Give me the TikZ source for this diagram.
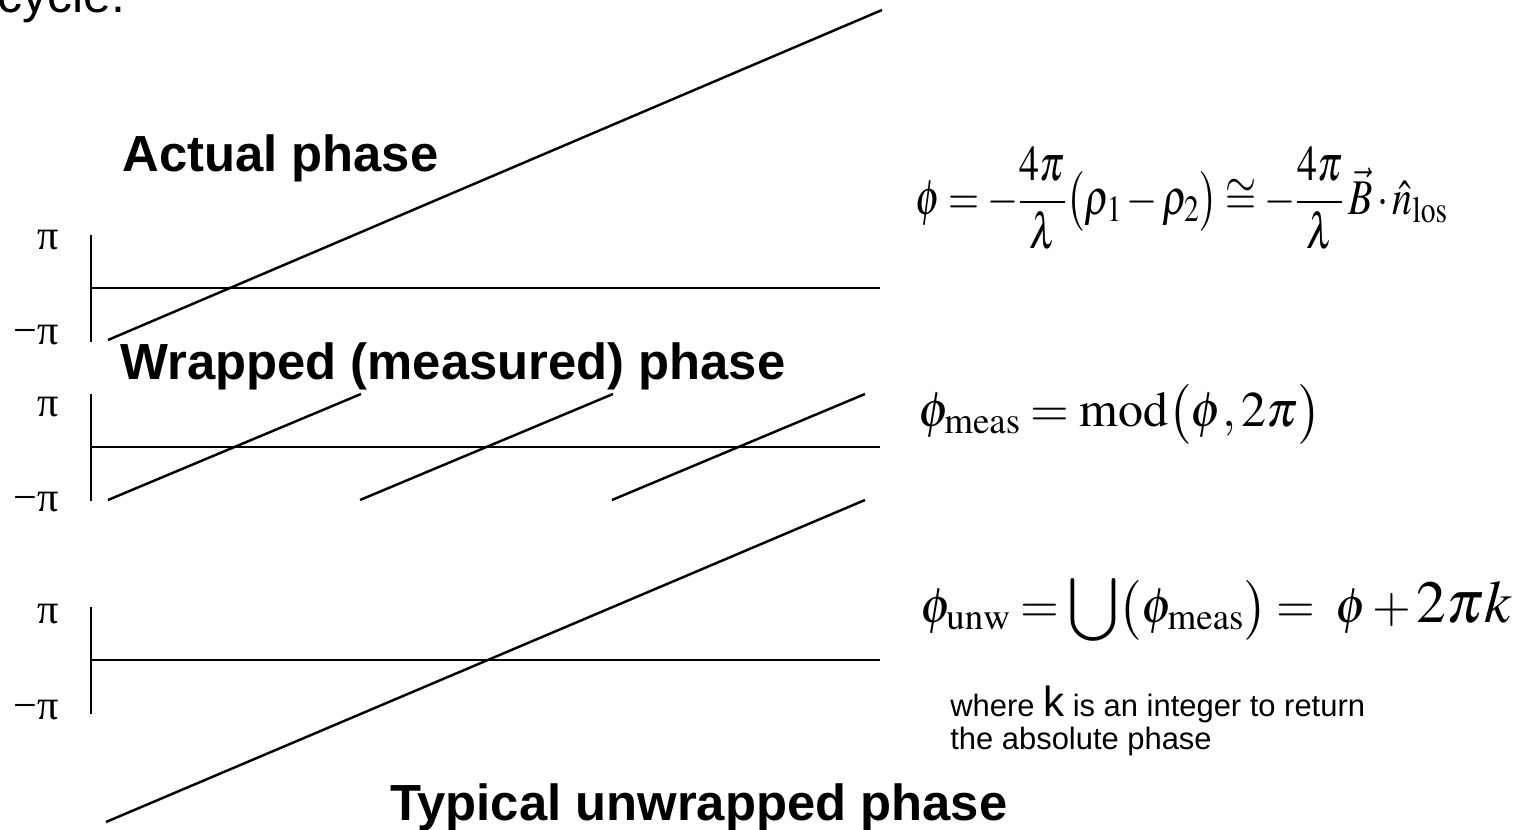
\documentclass[tikz,border=0pt]{standalone}
\usepackage{amsmath}
\usepackage{mathptmx}
\usepackage{fontspec}
\setmainfont{Liberation Sans}
\newfontfamily\grkserif{Liberation Serif}
\usepackage{tikz}
\usetikzlibrary{positioning, calc}
\tikzset{
  heading/.style={font=\fontsize{28.9}{30}\selectfont\bfseries, anchor=base west, inner sep=0pt},
  ticklbl/.style={font=\grkserif\fontsize{24}{26}\selectfont, anchor=east, inner sep=0pt},
  axisline/.style={line width=1.1pt, black},
  phaseline/.style={line width=1.4pt, black},
  eqn/.style={font={\fontsize{28.4}{30}\selectfont\thickmuskip=3.5mu\medmuskip=2mu}, anchor=west, inner sep=0pt},
  note/.style={font=\fontsize{17.6}{18.8}\selectfont, align=left, anchor=base west, inner sep=0pt}
}

\begin{document}
\begin{tikzpicture}[x=0.02cm, y=-0.02cm]
\useasboundingbox (0,0) rectangle (1519,830);

% text cut by the page top
\node[font=\fontsize{28.4}{30}\selectfont, anchor=base west, inner sep=0pt] (cyc) at (-3,13) {cycle.};

% three phase panels
\foreach \nm/\yc/\yp/\ym in {act/288/240/335, wrp/447/407/502, unw/660/614/710} {
  \coordinate (\nm-top) at (91,\yc-53);
  \coordinate (\nm-bot) at (91,\yc+54);
  \coordinate (\nm-o) at (91,\yc);
  \coordinate (\nm-e) at (880,\yc);
  \draw[axisline] (\nm-top) -- (\nm-bot);
  \draw[axisline] (\nm-o) -- (\nm-e);
  \node[ticklbl] (\nm-pi) at (59,\yp) {π};
  \node[ticklbl] (\nm-mpi) at (59,\ym) {−π};
}

\node[heading] (hact) at (122,172) {Actual phase};
\node[heading] (hwrp) at (120,380) {Wrapped (measured) phase};
\node[heading] (hunw) at (390,821) {Typical unwrapped phase};

% actual phase
\coordinate (a0) at (108,340);
\coordinate (a1) at (882,10);
\draw[phaseline] (a0) -- (a1);

% wrapped phase, one ramp per cycle
\foreach \i/\xs in {1/108, 2/360, 3/612} {
  \coordinate (w\i s) at (\xs,500);
  \coordinate (w\i e) at (\xs+253,394);
  \draw[phaseline] (w\i s) -- (w\i e);
}

% unwrapped phase
\coordinate (u0) at (106,822);
\coordinate (u1) at (865,500);
\draw[phaseline] (u0) -- (u1);

% relations
\node[eqn] (eq1) at (915,198) {\scalebox{0.8}[1]{$\phi = -\dfrac{4\pi}{\lambda}\bigl(\rho_1 - \rho_2\bigr) \cong -\dfrac{4\pi}{\lambda}\,\vec{B}\cdot\hat{n}_{\mathrm{los}}$}};
\node[eqn] (eq2) at (918,414) {$\phi_{\mathrm{meas}} = \mathrm{mod}\bigl(\phi,2\pi\bigr)$};
\node[eqn] (eq3) at (920,610) {$\phi_{\mathrm{unw}} = \displaystyle\bigcup\bigl(\phi_{\mathrm{meas}}\bigr) = \;\phi + \text{\fontsize{34}{36}\selectfont$2\pi k$}$};
\node[note] (nt) at (950,750) {where {\fontsize{24}{24}\selectfont k} is an integer to return\\the absolute phase};
\end{tikzpicture}
\end{document}
